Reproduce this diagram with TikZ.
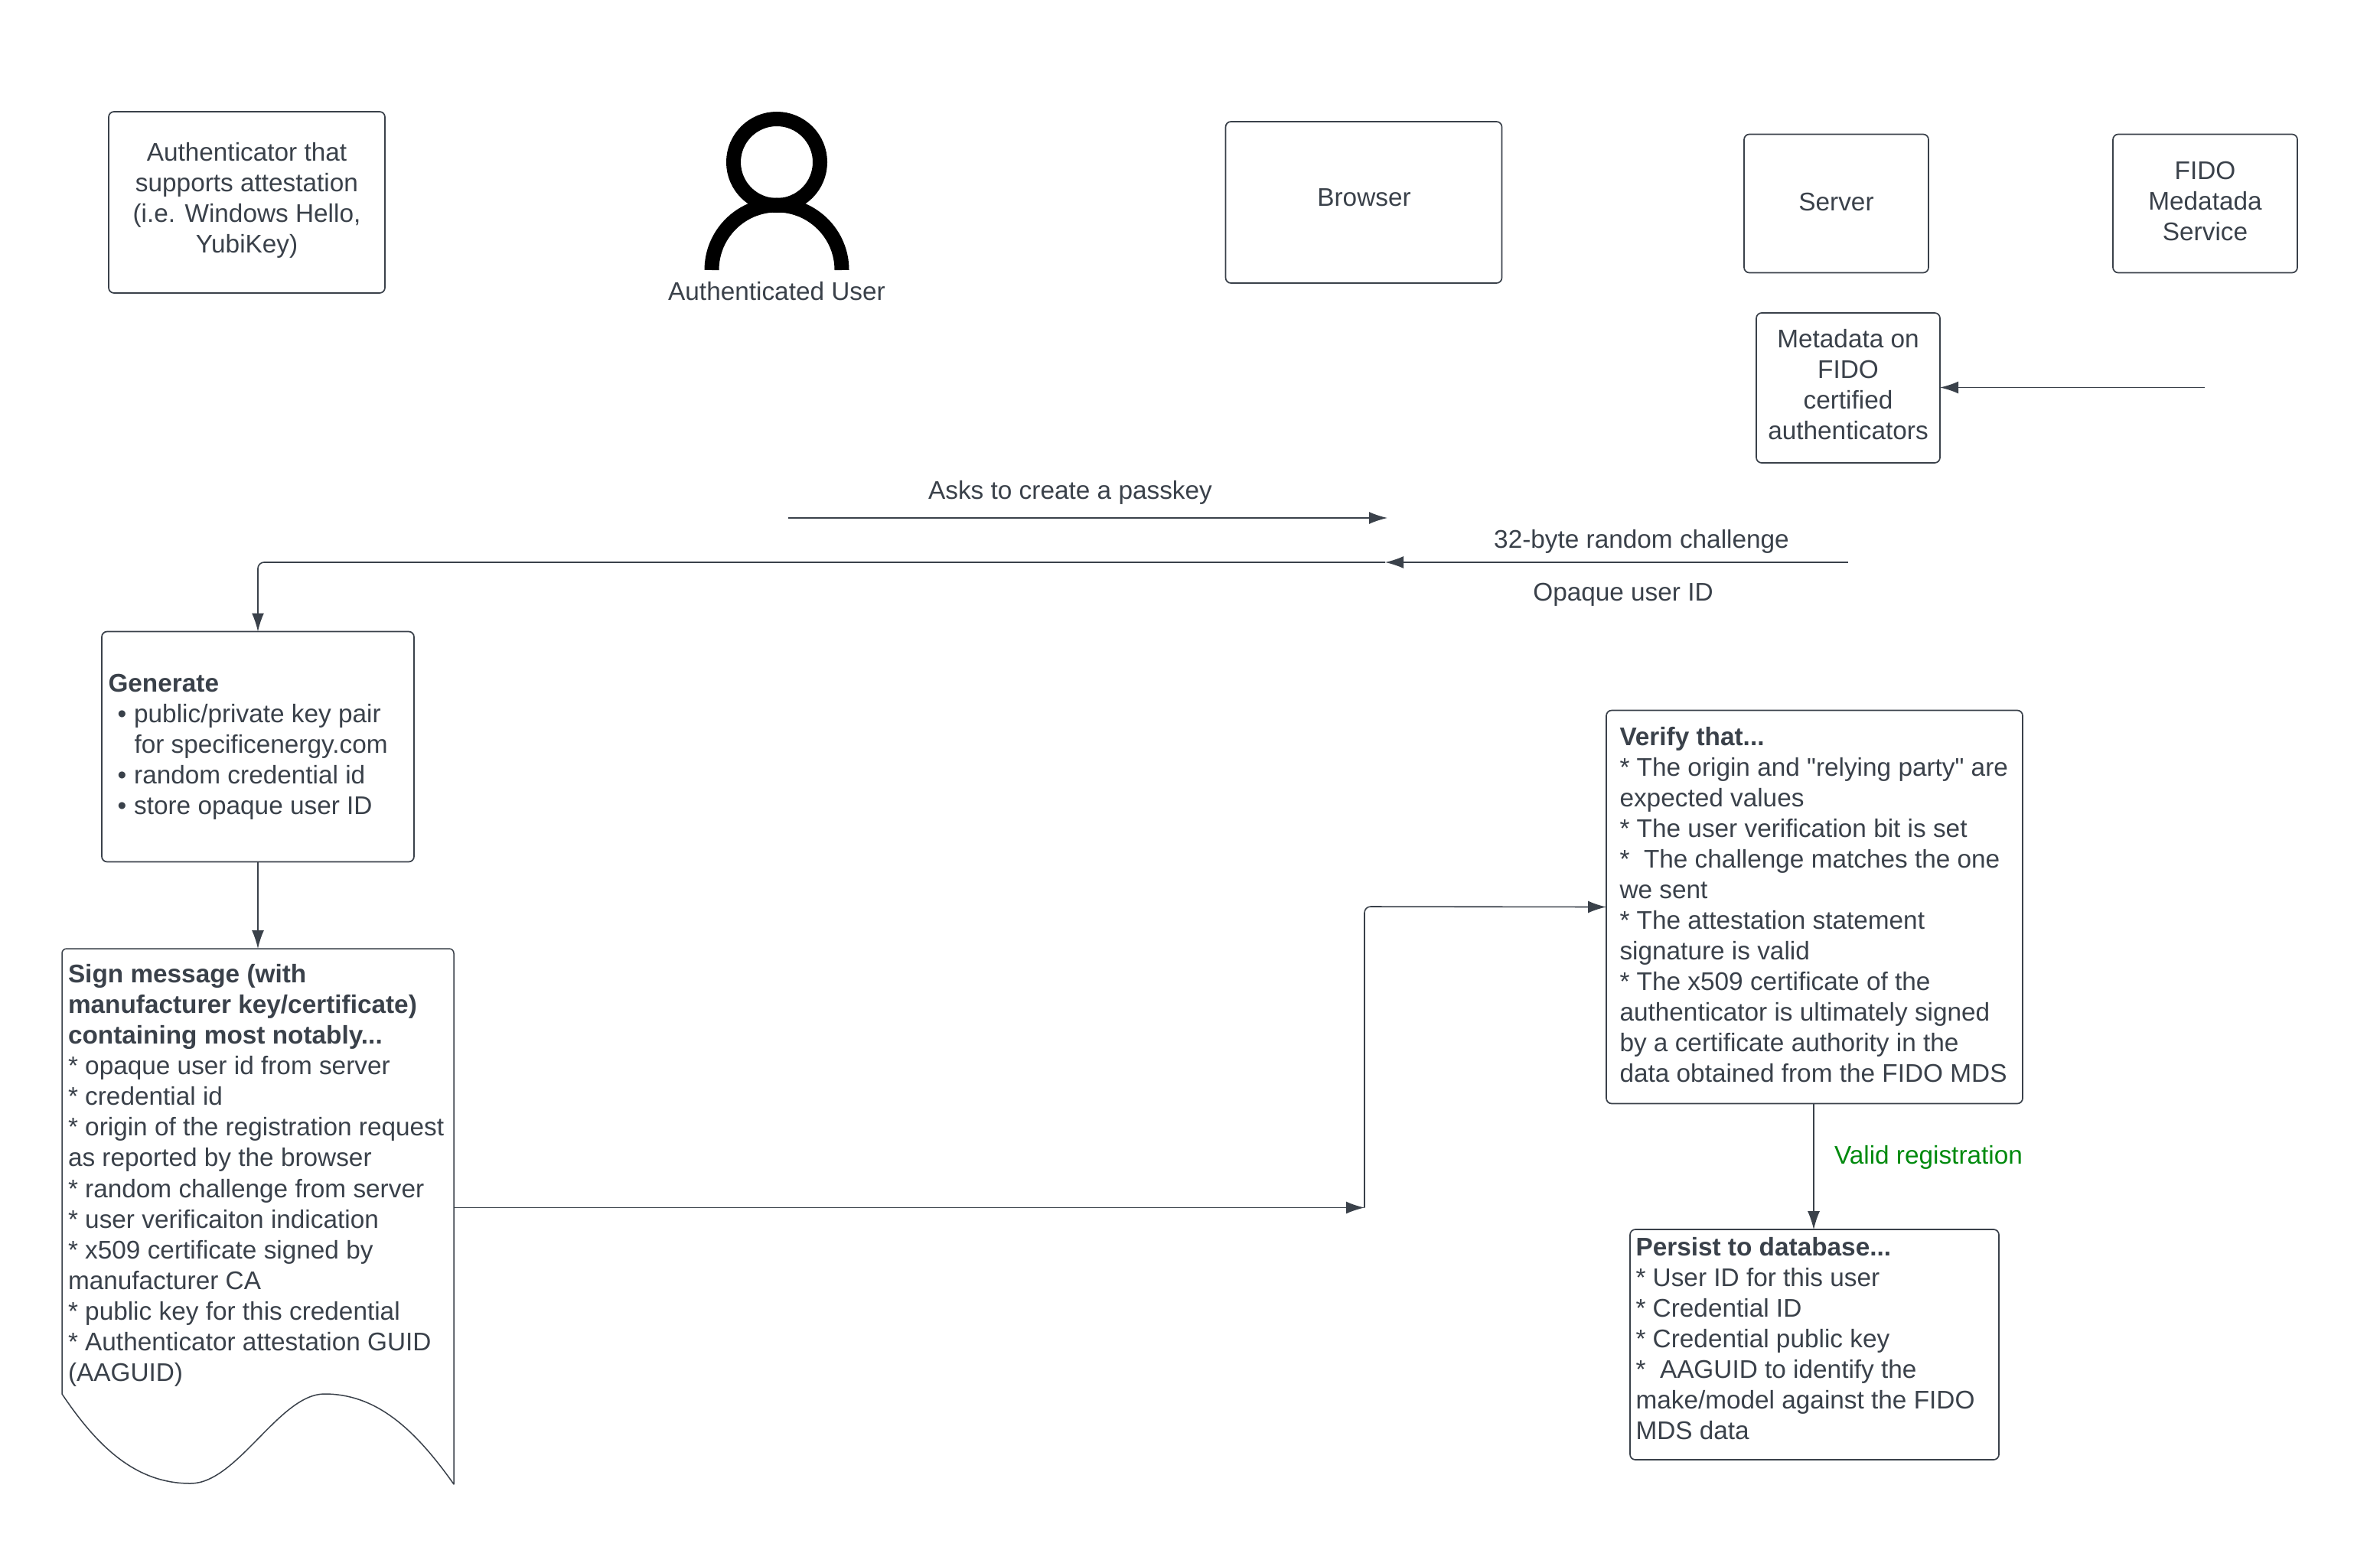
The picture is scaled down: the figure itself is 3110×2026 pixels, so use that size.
\documentclass[tikz,border=0pt]{standalone}
\usepackage{fontspec}
\setmainfont[Ligatures=TeXOff]{Liberation Sans}
\usetikzlibrary{arrows.meta,positioning}
\definecolor{ink}{HTML}{3A414A}
\definecolor{okgreen}{HTML}{008A0E}
\tikzset{
  every node/.style={font=\fontsize{33.35}{40}\selectfont, text=ink, inner sep=0pt, outer sep=0pt},
  boxed/.style={draw=ink, line width=1.7pt, rounded corners=7pt, anchor=north west, align=center},
  txt/.style={align=center},
  lefttxt/.style={align=left, anchor=north west},
  link/.style={draw=ink, line width=1.6pt, rounded corners=8pt},
  arrowed/.style={link, -{Latex[length=24pt,width=16pt]}},
  usericon/.style={draw=black, line width=19pt}
}
\begin{document}
\begin{tikzpicture}[x=1pt,y=-1pt]
\useasboundingbox (0,0) rectangle (3110,2026);
\fill[white] (0,0) rectangle (3110,2026);

% header boxes
\node[boxed, minimum width=361pt, minimum height=237pt] (auth) at (142,146) {};
\node[txt] (authtext) at (322.5,262) {Authenticator that\\supports attestation\\(i.e. Windows Hello,\\YubiKey)};
\node[boxed, minimum width=361pt, minimum height=211pt] (browser) at (1601.5,159) {};
\node[txt] (browsertext) at (1782.5,258) {Browser};
\node[boxed, minimum width=241pt, minimum height=181pt] (server) at (2279,175.5) {};
\node[txt] (servertext) at (2399.5,264) {Server};
\node[boxed, minimum width=241pt, minimum height=181pt] (fido) at (2761,175.5) {};
\node[txt] (fidotext) at (2881.5,263) {FIDO\\Medatada\\Service};
\node[boxed, minimum width=240pt, minimum height=196pt] (meta) at (2295,409) {};
\node[txt] (metatext) at (2415,503) {Metadata on\\FIDO\\certified\\authenticators};

% user
\coordinate (userc) at (1015,212);
\draw[usericon] (userc) circle (56.5pt);
\draw[usericon] (930,353) arc[start angle=180,end angle=0,radius=85pt];
\node[txt] (userlabel) at (1015,381) {Authenticated User};

% process boxes
\node[boxed, minimum width=408pt, minimum height=301pt] (gen) at (133,825.5) {};
\node[lefttxt] (gentext) at (141.5,881) {\textbf{Generate}\\
\hspace*{12pt}•\hspace*{10pt}public/private key pair\\
\hspace*{34pt}for specificenergy.com\\
\hspace*{12pt}•\hspace*{10pt}random credential id\\
\hspace*{12pt}•\hspace*{10pt}store opaque user ID};

\node[minimum width=512pt, minimum height=700pt, anchor=north west] (doc) at (81,1240) {};
\draw[draw=ink, line width=1.5pt, line join=round]
  (81,1822) -- (81,1246) arc[start angle=180,end angle=90,radius=6pt] -- (587,1240)
  arc[start angle=90,end angle=0,radius=6pt] -- (593,1940)
  .. controls (540,1865) and (490,1822) .. (424,1822)
  .. controls (365,1822) and (310,1939) .. (249,1939)
  .. controls (180,1939) and (130,1895) .. (81,1822) -- cycle;
\node[lefttxt, font=\fontsize{33.35}{40.12}\selectfont] (doctext) at (89,1260) {\textbf{Sign message (with}\\
\textbf{manufacturer key/certificate)}\\
\textbf{containing most notably...}\\
* opaque user id from server\\
* credential id\\
* origin of the registration request\\
as reported by the browser\\
* random challenge from server\\
* user verificaiton indication\\
* x509 certificate signed by\\
manufacturer CA\\
* public key for this credential\\
* Authenticator attestation GUID\\
(AAGUID)};

\node[boxed, minimum width=544pt, minimum height=514pt] (verify) at (2099,928.5) {};
\node[lefttxt] (verifytext) at (2116.5,950) {\textbf{Verify that...}\\
* The origin and "relying party" are\\
expected values\\
* The user verification bit is set\\
*\ \ The challenge matches the one\\
we sent\\
* The attestation statement\\
signature is valid\\
* The x509 certificate of the\\
authenticator is ultimately signed\\
by a certificate authority in the\\
data obtained from the FIDO MDS};

\node[boxed, minimum width=482pt, minimum height=301pt] (persist) at (2130,1607) {};
\node[lefttxt] (persisttext) at (2137.5,1617) {\textbf{Persist to database...}\\
* User ID for this user\\
* Credential ID\\
* Credential public key\\
*\ \ AAGUID to identify the\\
make/model against the FIDO\\
MDS data};

% connector end points
\coordinate (fidofree) at (2881,506.5);
\coordinate (askstart) at (1030,677);
\coordinate (askend) at (1813,677);
\coordinate (chalstart) at (meta.south |- 0,735);
\coordinate (chalmid) at (1810,735);
\coordinate (chalturn) at (gen.north |- 0,735);
\coordinate (doctomid) at (1783,1578.5);
\coordinate (turnup) at (1783,1185);

% connectors
\draw[arrowed] (fidofree) -- (fidofree -| meta.east);
\draw[arrowed] (askstart) -- (askend);
\draw[arrowed] (chalstart) -- (chalmid);
\draw[arrowed] (chalmid) -- (chalturn) -- (gen.north);
\draw[arrowed] (gen.south) -- (doc.north);
\draw[arrowed] (doc.east |- doctomid) -- (doctomid);
\draw[arrowed] (doctomid) -- (turnup) -- (verify.west);
\draw[arrowed, line width=1.1pt] ([xshift=-1pt]verify.south) -- ([xshift=-1pt]persist.north);

% connector labels
\node[txt] (asks) at (1398.5,644) {Asks to create a passkey};
\node[txt] (chal) at (2145,708) {32-byte random challenge};
\node[txt] (opaque) at (2121,777) {Opaque user ID};
\node[txt, text=okgreen] (valid) at (2520,1513) {Valid registration};
\end{tikzpicture}
\end{document}
